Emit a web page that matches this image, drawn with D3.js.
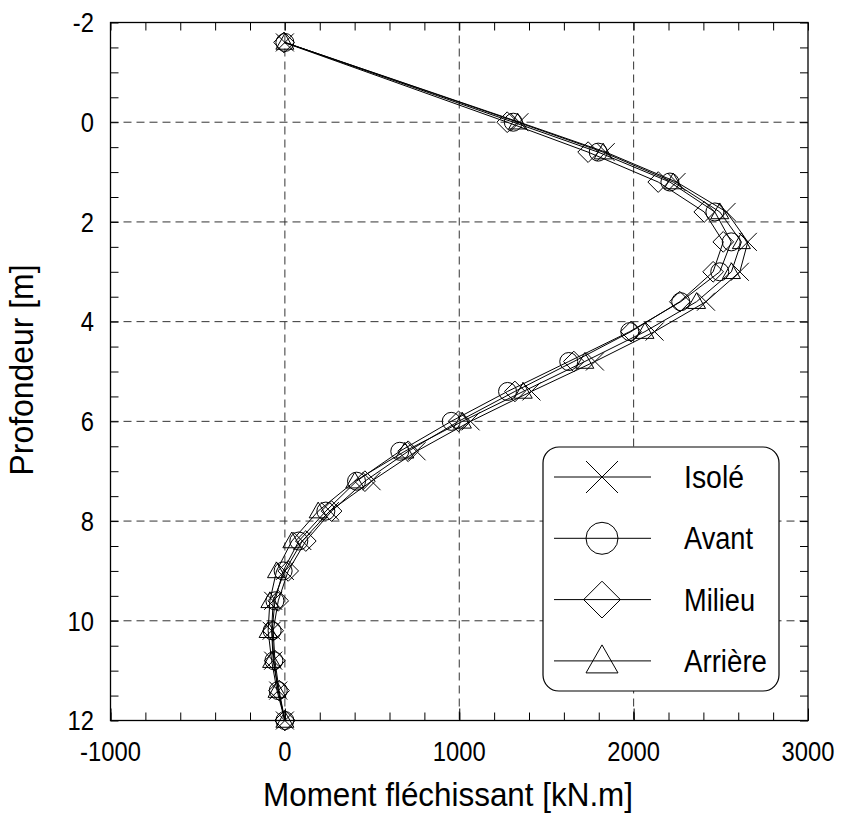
<!DOCTYPE html>
<html><head><meta charset="utf-8">
<script src="https://cdn.jsdelivr.net/npm/d3@7"></script>
<style>body{margin:0;background:#fff}svg{display:block}text{font-family:"Liberation Sans",Arial,sans-serif;fill:#000}</style>
</head><body>
<script>
const depth = [-1.6, 0, 0.6, 1.2, 1.8, 2.4, 3.0, 3.6, 4.2, 4.8, 5.4, 6.0, 6.6, 7.2, 7.8, 8.4, 9.0, 9.6, 10.2, 10.8, 11.4, 12.0];
const isole   = [0, 1345, 1840, 2246, 2533, 2655, 2609, 2415, 2120, 1778, 1414, 1065, 755, 497, 258, 100, 0, -67, -76, -67, -38, 0];
const avant   = [0, 1310, 1797, 2208, 2466, 2560, 2494, 2270, 1978, 1628, 1277, 954, 659, 411, 235, 80, -10, -57, -73, -63, -38, 0];
const milieu  = [-5, 1275, 1739, 2141, 2405, 2514, 2456, 2265, 1985, 1657, 1319, 996, 707, 459, 268, 120, 19, -38, -67, -57, -33, 0];
const arriere = [0, 1335, 1825, 2227, 2494, 2618, 2561, 2361, 2065, 1720, 1367, 1018, 688, 401, 191, 40, -48, -86, -96, -76, -45, 0];
const seriesNames = ["Isolé", "Avant", "Milieu", "Arrière"];
const seriesMarkers = ["cross", "circle", "diamond", "triangle"];
const xTicks = [-1000, 0, 1000, 2000, 3000];
const yTicks = [-2, 0, 2, 4, 6, 8, 10, 12];
const xTitle = "Moment fléchissant [kN.m]";
const yTitle = "Profondeur [m]";

const W = 842, H = 816;
const L = 110.5, R = 808, T = 22.5, B = 720.5;
const svg = d3.select("body").append("svg").attr("width", W).attr("height", H);
const x = d3.scaleLinear().domain([-1000, 3000]).range([L, R]);
const y = d3.scaleLinear().domain([-2, 12]).range([T, B]);

function narrow(sel, f) {
  sel.each(function(){ const w = this.getComputedTextLength(); d3.select(this).attr("textLength", w * f).attr("lengthAdjust", "spacingAndGlyphs"); });
}

// grid
const g = svg.append("g");
g.selectAll(".gx").data(xTicks.slice(1, -1)).join("line")
  .attr("x1", d => x(d)).attr("x2", d => x(d)).attr("y1", T).attr("y2", B)
  .attr("stroke", "#333").attr("stroke-width", 1).attr("stroke-dasharray", "8,5");
g.selectAll(".gy").data(yTicks.slice(1, -1)).join("line")
  .attr("y1", d => y(d)).attr("y2", d => y(d)).attr("x1", L).attr("x2", R)
  .attr("stroke", "#333").attr("stroke-width", 1).attr("stroke-dasharray", "8,5");

// ticks (inward) using d3 axes
const xMinor = d3.range(-1000, 3001, 200);
const yMinor = d3.range(-2, 12.01, 0.5);
function style(sel){ sel.select(".domain").remove(); sel.selectAll("line").attr("stroke","#000").attr("stroke-width",1); }
svg.append("g").attr("transform", `translate(0,${B})`)
  .call(d3.axisTop(x).tickValues(xMinor).tickSize(8).tickFormat("")).call(style);
svg.append("g").attr("transform", `translate(0,${T})`)
  .call(d3.axisBottom(x).tickValues(xMinor).tickSize(8).tickFormat("")).call(style);
svg.append("g").attr("transform", `translate(${L},0)`)
  .call(d3.axisRight(y).tickValues(yMinor).tickSize(8).tickFormat("")).call(style);
svg.append("g").attr("transform", `translate(${R},0)`)
  .call(d3.axisLeft(y).tickValues(yMinor).tickSize(8).tickFormat("")).call(style);
svg.append("g").attr("transform", `translate(0,${B})`)
  .call(d3.axisTop(x).tickValues(xTicks).tickSize(12).tickFormat("")).call(style);

// tick labels
svg.append("g").selectAll("text").data(xTicks).join("text")
  .attr("x", d => x(d)).attr("y", 761).attr("text-anchor", "middle")
  .attr("font-size", 27).text(d => d).call(narrow, 0.88);
svg.append("g").selectAll("text").data(yTicks).join("text")
  .attr("x", 94).attr("y", d => y(d)).attr("dy", "0.36em").attr("text-anchor", "end")
  .attr("font-size", 27).text(d => d).call(narrow, 0.88);

// frame
svg.append("rect").attr("x", L).attr("y", T).attr("width", R - L).attr("height", B - T)
  .attr("fill", "none").attr("stroke", "#000").attr("stroke-width", 1.3);

// titles
svg.append("text").attr("x", 448).attr("y", 806).attr("text-anchor", "middle")
  .attr("font-size", 33).attr("textLength", 370).attr("lengthAdjust", "spacingAndGlyphs").text(xTitle);
svg.append("text").attr("transform", "translate(33,370) rotate(-90)").attr("text-anchor", "middle")
  .attr("font-size", 34).attr("textLength", 211).attr("lengthAdjust", "spacingAndGlyphs").text(yTitle);

// markers
function marker(sel, type, s) {
  if (type === "cross") {
    sel.append("path").attr("d", `M${-s},${-s}L${s},${s}M${-s},${s}L${s},${-s}`);
  } else if (type === "circle") {
    sel.append("circle").attr("r", s);
  } else if (type === "diamond") {
    const h = s * 1.15;
    sel.append("path").attr("d", `M0,${-h}L${h},0L0,${h}L${-h},0Z`);
  } else {
    const h = s * 1.0;
    sel.append("path").attr("d", `M0,${-h}L${h},${h*0.75}L${-h},${h*0.75}Z`);
  }
}
const allSeries = [isole, avant, milieu, arriere];
const line = d3.line().x(d => x(d[1])).y(d => y(d[0]));
const plot = svg.append("g");
allSeries.forEach((vals, i) => {
  const pts = depth.map((d, j) => [d, vals[j]]);
  plot.append("path").attr("d", line(pts)).attr("fill", "none").attr("stroke", "#000").attr("stroke-width", 1);
  plot.append("g").selectAll("g").data(pts).join("g")
    .attr("transform", d => `translate(${x(d[1])},${y(d[0])})`)
    .attr("fill", "none").attr("stroke", "#000").attr("stroke-width", 1)
    .each(function(){ marker(d3.select(this), seriesMarkers[i], 9); });
});

// legend
const lg = svg.append("g");
lg.append("rect").attr("x", 543).attr("y", 447).attr("width", 236).attr("height", 244).attr("rx", 16)
  .attr("fill", "#fff").attr("stroke", "#000").attr("stroke-width", 1.2);
seriesNames.forEach((n, i) => {
  const cy = 477 + i * 61.3;
  lg.append("line").attr("x1", 554).attr("x2", 651).attr("y1", cy).attr("y2", cy).attr("stroke", "#000");
  const m = lg.append("g").attr("transform", `translate(602,${cy})`).attr("fill", "none").attr("stroke", "#000");
  marker(m, seriesMarkers[i], 16);
  lg.append("text").attr("x", 684).attr("y", cy).attr("dy", "0.36em").attr("font-size", 31)
    .attr("textLength", [60, 69, 71, 83][i]).attr("lengthAdjust", "spacingAndGlyphs").text(n);
});
</script>
</body></html>
